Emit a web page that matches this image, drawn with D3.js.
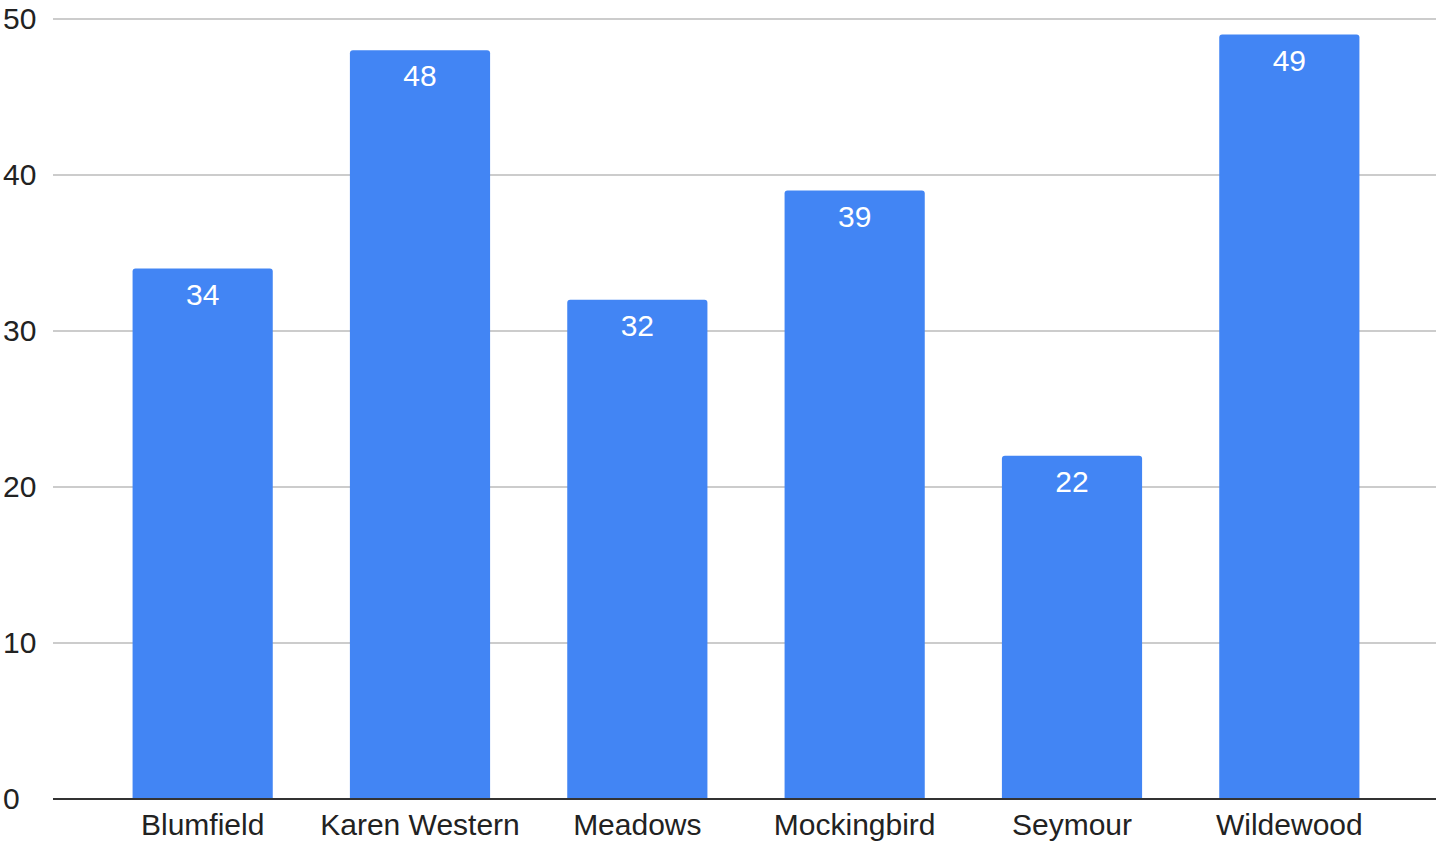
<!DOCTYPE html>
<html>
<head>
<meta charset="utf-8">
<script src="https://cdn.jsdelivr.net/npm/d3@7"></script>
<style>
  body { margin: 0; background: #fff; }
  text { font-family: "Liberation Sans", Arial, sans-serif; }
</style>
</head>
<body>
<div id="chart"></div>
<script>
// Chart data
const categories = ['Blumfield', 'Karen Western', 'Meadows', 'Mockingbird', 'Seymour', 'Wildewood'];
const values = [34, 48, 32, 39, 22, 49];
const yTicks = [0, 10, 20, 30, 40, 50];

const width = 1436;
const height = 844;

const svg = d3.select('#chart')
    .append('svg')
    .attr('width', width)
    .attr('height', height);

// Scales
const x = d3.scaleBand()
    .domain(categories)
    .range([94, 1398])
    .paddingInner(0.355)
    .paddingOuter(0.1775);

const y = d3.scaleLinear()
    .domain([0, 50])
    .range([799, 19]);

// Gridlines
svg.append('g')
    .selectAll('line')
    .data(yTicks.filter(d => d > 0))
    .enter()
    .append('line')
    .attr('x1', 53)
    .attr('x2', width)
    .attr('y1', d => y(d))
    .attr('y2', d => y(d))
    .attr('stroke', '#cccccc')
    .attr('stroke-width', 2);

// Y tick labels
svg.append('g')
    .selectAll('text')
    .data(yTicks)
    .enter()
    .append('text')
    .attr('x', 3)
    .attr('y', d => y(d) + 10)
    .attr('font-size', 30)
    .attr('fill', '#222')
    .text(d => d);

// Bars with slightly rounded tops
const r = 3;
svg.append('g')
    .selectAll('path')
    .data(values)
    .enter()
    .append('path')
    .attr('d', (d, i) => {
        const x0 = x(categories[i]);
        const w = x.bandwidth();
        const top = y(d);
        const bottom = y(0);
        return `M${x0},${bottom} V${top + r} Q${x0},${top} ${x0 + r},${top} H${x0 + w - r} Q${x0 + w},${top} ${x0 + w},${top + r} V${bottom} Z`;
    })
    .attr('fill', '#4285f4');

// Value labels
svg.append('g')
    .selectAll('text')
    .data(values)
    .enter()
    .append('text')
    .attr('x', (d, i) => x(categories[i]) + x.bandwidth() / 2)
    .attr('y', d => y(d) + 36)
    .attr('text-anchor', 'middle')
    .attr('font-size', 30)
    .attr('fill', '#fff')
    .text(d => d);

// Baseline
svg.append('line')
    .attr('x1', 53)
    .attr('x2', width)
    .attr('y1', y(0))
    .attr('y2', y(0))
    .attr('stroke', '#333')
    .attr('stroke-width', 2);

// Category labels (kept just inside the bottom edge)
svg.append('g')
    .selectAll('text')
    .data(categories)
    .enter()
    .append('text')
    .attr('x', d => x(d) + x.bandwidth() / 2)
    .attr('y', 835)
    .attr('text-anchor', 'middle')
    .attr('font-size', 30)
    .attr('fill', '#222')
    .text(d => d);
</script>
</body>
</html>
